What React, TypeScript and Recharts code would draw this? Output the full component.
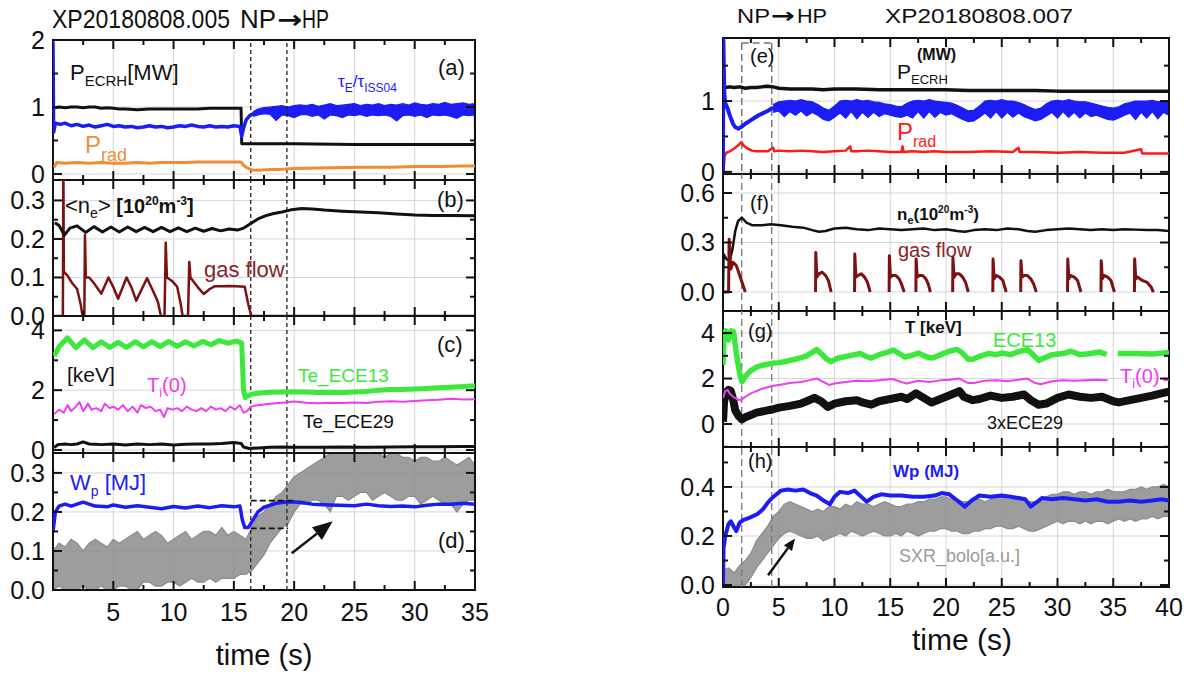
import React from "react";
import {
  ComposedChart,
  Line,
  Area,
  XAxis,
  YAxis,
  CartesianGrid,
  ReferenceLine,
  ReferenceArea,
} from "recharts";

type Pt = [number, number | null];
type Band = [number, number, number];

const FONT = "'Liberation Sans', Arial, sans-serif";

// ---------- left column: XP20180808.005, time 0..35 s ----------
const xMajorL = [5, 10, 15, 20, 25, 30];
const xMinorL = [2.5, 7.5, 12.5, 17.5, 22.5, 27.5, 32.5];
const xLabelsL = [5, 10, 15, 20, 25, 30, 35];
const dashL = [16.4, 19.4];

// (a) P_ECRH, tau_E/tau_ISS04, P_rad
const ecrhA: Pt[] = [[0.15,0.99],[0.5,1.0],[1,0.99],[1.5,1.0],[2,1.0],[2.5,0.99],[3,1.0],[3.5,1.0],[4,0.98],[4.5,0.99],[5,0.98],[5.5,0.97],[6,0.97],[7,0.96],[8,0.97],[9,0.97],[10,0.97],[11,0.97],[12,0.97],[13,0.98],[14,0.98],[15,0.98],[15.6,0.98],[15.65,0.45],[17,0.45],[20,0.45],[25,0.44],[30,0.44],[35,0.44]];
const tauA: Pt[] = [[0,1.98],[0.05,0.62],[0.2,0.76],[0.6,0.74],[1,0.76],[1.5,0.72],[2,0.74],[2.5,0.71],[3,0.73],[3.5,0.7],[4,0.72],[4.5,0.74],[5,0.71],[5.5,0.72],[6,0.7],[6.5,0.71],[7,0.69],[7.5,0.7],[8,0.72],[8.5,0.7],[9,0.71],[9.5,0.69],[10,0.7],[10.5,0.72],[11,0.71],[11.5,0.73],[12,0.71],[12.5,0.7],[13,0.72],[13.5,0.7],[14,0.71],[14.5,0.7],[15,0.72],[15.5,0.71],[15.65,0.56],[15.8,0.68],[16.0,0.8],[16.3,0.87],[16.7,0.91]];
const tauBandA: Band[] = [[16.6,0.86,0.93],[17,0.88,0.97],[17.5,0.9,0.99],[18,0.89,1.0],[18.5,0.8,1.01],[19,0.88,1.02],[19.5,0.87,1.0],[20,0.84,1.02],[20.5,0.88,1.03],[21,0.89,1.02],[21.5,0.86,1.04],[22,0.88,1.01],[22.5,0.82,1.03],[23,0.88,1.05],[23.5,0.87,1.02],[24,0.84,1.03],[24.5,0.88,1.04],[25,0.87,1.05],[25.5,0.89,1.02],[26,0.86,1.04],[26.5,0.88,1.03],[27,0.87,1.05],[27.5,0.88,1.02],[28,0.86,1.04],[28.5,0.79,1.03],[29,0.87,1.05],[29.5,0.88,1.03],[30,0.86,1.06],[30.5,0.88,1.04],[31,0.84,1.03],[31.5,0.88,1.05],[32,0.87,1.04],[32.5,0.88,1.07],[33,0.86,1.04],[33.5,0.83,1.05],[34,0.88,1.06],[34.5,0.87,1.04],[34.95,0.88,1.05],[35,-0.09,1.05]];
const pradA: Pt[] = [[0.1,0.1],[0.3,0.17],[1,0.16],[2,0.17],[3,0.16],[4,0.17],[5,0.16],[6,0.16],[7,0.17],[8,0.16],[9,0.17],[10,0.17],[11,0.17],[12,0.18],[13,0.18],[14,0.18],[15,0.18],[15.6,0.18],[15.8,0.13],[16.1,0.09],[16.5,0.06],[17,0.055],[18,0.065],[19,0.07],[20,0.08],[21,0.085],[22,0.09],[24,0.095],[26,0.1],[28,0.1],[30,0.11],[32,0.11],[34,0.12],[35,0.12]];

// (b) line-averaged density and gas flow
const neB: Pt[] = [[0.15,0.242],[0.5,0.235],[0.95,0.21],[1.4,0.228],[2.0,0.234],[2.7,0.217],[3.4,0.232],[4.1,0.218],[4.8,0.231],[5.5,0.218],[6.2,0.231],[6.9,0.219],[7.6,0.23],[8.3,0.219],[9.0,0.23],[9.7,0.219],[10.4,0.229],[11.1,0.219],[11.8,0.228],[12.5,0.22],[13.2,0.227],[13.9,0.221],[14.6,0.226],[15.3,0.223],[15.8,0.228],[16.4,0.24],[17,0.252],[17.6,0.26],[18.3,0.266],[19,0.27],[19.8,0.276],[20.6,0.279],[21.5,0.278],[22.5,0.275],[24,0.272],[25.5,0.27],[27,0.268],[28.5,0.265],[30,0.262],[31.5,0.261],[33,0.261],[35,0.26]];
const gasB: Pt[] = [[0,0],[0.82,0],[0.86,0.4],[0.9,0.115],[1.2,0.105],[1.6,0.085],[2.0,0.07],[2.3,0.03],[2.45,0],[2.6,0],[2.65,0.21],[2.72,0.1],[3.0,0.1],[3.4,0.085],[4.0,0.058],[4.6,0.1],[5.0,0.075],[5.4,0.045],[6.1,0.1],[6.5,0.075],[6.9,0.04],[7.8,0.098],[8.3,0.065],[8.7,0.037],[8.95,0],[9.25,0],[9.35,0.19],[9.45,0.1],[9.9,0.09],[10.3,0.076],[10.6,0.03],[10.75,0],[11.2,0],[11.3,0.14],[11.4,0.1],[12.0,0.075],[12.5,0.057],[13.0,0.07],[13.4,0.077],[14,0.077],[14.6,0.078],[15.2,0.077],[15.9,0.076],[16.2,0.03],[16.45,0],[35,0]];

// (c) temperatures [keV]
const ece13C: Pt[] = [[0.1,3.15],[0.5,3.45],[1.2,3.75],[1.9,3.42],[2.6,3.68],[3.3,3.42],[4.0,3.62],[4.7,3.43],[5.4,3.6],[6.1,3.43],[6.8,3.62],[7.5,3.45],[8.2,3.62],[8.9,3.46],[9.6,3.63],[10.3,3.47],[11.0,3.62],[11.7,3.48],[12.4,3.63],[13.1,3.52],[13.8,3.66],[14.5,3.57],[15.2,3.64],[15.65,3.58],[15.8,2.0],[15.95,1.75],[16.4,1.86],[17,1.9],[18,1.93],[19,1.94],[20,1.95],[21,1.94],[22,1.92],[23,1.93],[24,1.92],[25,1.94],[26,1.96],[27,2.0],[28,2.02],[29,2.02],[30,2.04],[31,2.06],[32,2.08],[33,2.1],[34,2.12],[35,2.15]];
const tiC: Pt[] = [[0.1,1.2],[0.5,1.35],[0.9,1.25],[1.2,1.5],[1.5,1.3],[1.9,1.45],[2.2,1.6],[2.5,1.3],[2.9,1.55],[3.2,1.35],[3.6,1.4],[4.0,1.3],[4.3,1.55],[4.7,1.4],[5.0,1.45],[5.4,1.35],[5.8,1.5],[6.2,1.3],[6.6,1.45],[7.0,1.25],[7.3,1.5],[7.7,1.4],[8.1,1.45],[8.5,1.3],[8.9,1.35],[9.2,1.1],[9.5,1.4],[9.9,1.35],[10.3,1.4],[10.7,1.3],[11.1,1.45],[11.5,1.35],[11.9,1.3],[12.3,1.4],[12.7,1.3],[13.1,1.45],[13.5,1.35],[13.9,1.4],[14.3,1.3],[14.7,1.45],[15.1,1.35],[15.5,1.5],[15.8,1.25],[16.1,1.3],[16.4,1.45],[17,1.5],[18,1.55],[19,1.58],[20,1.62],[21,1.58],[22,1.56],[23,1.58],[24,1.57],[25,1.59],[26,1.57],[27,1.61],[28,1.63],[29,1.61],[30,1.64],[31,1.66],[32,1.68],[33,1.71],[34,1.69],[35,1.7]];
const ece29C: Pt[] = [[0.1,0.08],[0.4,0.18],[1,0.2],[1.5,0.18],[2,0.2],[2.5,0.27],[3,0.2],[3.5,0.19],[4,0.18],[5,0.2],[6,0.17],[7,0.2],[8,0.18],[9,0.2],[10,0.17],[11,0.19],[12,0.2],[13,0.2],[14,0.22],[15,0.25],[15.6,0.22],[15.8,0.1],[16.3,0.05],[17,0.07],[18,0.09],[19,0.1],[20,0.09],[22,0.09],[24,0.1],[26,0.09],[28,0.1],[30,0.11],[32,0.11],[34,0.12],[35,0.12]];

// (d) W_p [MJ] and SXR envelope
const wpD: Pt[] = [[0,0.15],[0.2,0.2],[0.5,0.215],[1,0.22],[1.5,0.215],[2.5,0.225],[3.5,0.215],[4.5,0.213],[5,0.218],[6,0.212],[7,0.216],[8,0.212],[9,0.208],[10,0.214],[11,0.21],[12,0.215],[13,0.211],[14,0.216],[15,0.213],[15.5,0.215],[15.7,0.18],[15.9,0.16],[16.2,0.16],[16.6,0.18],[17,0.2],[17.5,0.212],[18.5,0.222],[19.5,0.226],[20.5,0.225],[21.5,0.22],[23,0.218],[25,0.216],[26,0.22],[27,0.216],[28,0.214],[29,0.215],[30,0.213],[31,0.217],[32,0.22],[33,0.22],[34,0.222],[35,0.22]];
const sxrD: Band[] = [[0,0.0,0.1],[0.5,0.01,0.12],[1,0.0,0.11],[1.5,0.0,0.13],[2,0.0,0.12],[2.5,0.01,0.1],[3,0.0,0.12],[3.5,0.0,0.13],[4,0.01,0.12],[4.5,0.0,0.11],[5,0.0,0.13],[5.5,0.01,0.12],[6,0.01,0.13],[6.5,0.0,0.14],[7,0.0,0.15],[7.5,0.02,0.13],[8,0.02,0.14],[8.5,0.01,0.15],[9,0.01,0.14],[9.5,0.02,0.12],[10,0.02,0.13],[10.5,0.01,0.14],[11,0.02,0.15],[11.5,0.03,0.13],[12,0.02,0.14],[12.5,0.02,0.15],[13,0.03,0.15],[13.5,0.02,0.14],[14,0.03,0.16],[14.5,0.03,0.14],[15,0.03,0.15],[15.5,0.04,0.14],[16,0.04,0.13],[16.5,0.05,0.16],[17,0.07,0.19],[17.5,0.09,0.2],[18,0.12,0.22],[18.5,0.14,0.24],[19,0.16,0.25],[19.5,0.17,0.27],[20,0.2,0.29],[20.5,0.22,0.3],[21,0.22,0.31],[21.5,0.23,0.32],[22,0.23,0.33],[22.5,0.22,0.34],[23,0.2,0.35],[23.5,0.24,0.35],[24,0.24,0.35],[24.5,0.23,0.35],[25,0.24,0.35],[25.5,0.25,0.35],[26,0.25,0.35],[26.5,0.23,0.35],[27,0.24,0.35],[27.5,0.25,0.34],[28,0.24,0.35],[28.5,0.23,0.35],[29,0.23,0.34],[29.5,0.24,0.34],[30,0.24,0.33],[30.5,0.22,0.34],[31,0.23,0.34],[31.5,0.24,0.33],[32,0.23,0.33],[32.5,0.22,0.34],[33,0.22,0.33],[33.5,0.2,0.32],[34,0.22,0.33],[34.5,0.23,0.34],[35,0.23,0.32]];
const wpStepD = { hi: 0.229, lo: 0.158, from: 16.4, to: 19.9, toLo: 19.5 };
const arrowD = { x1: 19.8, y1: 0.094, x2: 23.2, y2: 0.176 };

// ---------- right column: XP20180808.007, time 0..40 s ----------
const xMajorR = [5, 10, 15, 20, 25, 30, 35];
const xMinorR = [2.5, 7.5, 12.5, 17.5, 22.5, 27.5, 32.5, 37.5];
const xLabelsR = [0, 5, 10, 15, 20, 25, 30, 35, 40];
const dashR = [1.68, 4.37];

// (e)
const ecrhE: Pt[] = [[0.2,1.19],[0.6,1.2],[1,1.19],[1.5,1.2],[2,1.18],[2.5,1.19],[3,1.19],[3.5,1.2],[4,1.21],[4.5,1.2],[5,1.18],[6,1.17],[7,1.17],[8,1.17],[9,1.16],[10,1.17],[12,1.17],[14,1.16],[16,1.16],[18,1.16],[20,1.16],[22,1.15],[24,1.15],[26,1.15],[28,1.15],[30,1.14],[32,1.14],[34,1.14],[36,1.14],[38,1.14],[40,1.14]];
const tauE: Pt[] = [[0,-0.03],[0.03,1.89],[0.12,1.1],[0.2,0.97],[0.4,0.9],[0.65,0.78],[0.9,0.68],[1.1,0.63],[1.4,0.61],[1.7,0.64],[2.0,0.68],[2.4,0.72],[2.8,0.76],[3.2,0.8],[3.6,0.83],[4.0,0.86],[4.4,0.9],[4.6,0.9]];
const tauBandE: Band[] = [[4.5,0.84,0.95],[5,0.86,0.99],[5.5,0.78,1.0],[6,0.85,1.01],[6.5,0.8,1.0],[7,0.86,1.02],[7.5,0.79,1.0],[8,0.84,0.99],[8.5,0.8,0.95],[9,0.74,0.9],[9.5,0.72,0.87],[10,0.77,0.93],[10.5,0.83,1.0],[11,0.76,1.01],[11.5,0.85,1.0],[12,0.75,1.02],[12.5,0.84,1.0],[13,0.77,1.01],[13.5,0.84,0.99],[14,0.78,0.98],[14.5,0.82,0.96],[15,0.8,0.95],[15.5,0.78,0.93],[16,0.77,0.92],[16.5,0.8,0.97],[17,0.76,1.0],[17.5,0.85,1.01],[18,0.76,1.0],[18.5,0.85,1.02],[19,0.77,1.0],[19.5,0.84,0.99],[20,0.8,0.98],[20.5,0.82,0.97],[21,0.78,0.94],[21.5,0.74,0.9],[22,0.71,0.86],[22.5,0.72,0.87],[23,0.77,0.93],[23.5,0.83,1.0],[24,0.76,1.01],[24.5,0.85,1.0],[25,0.76,1.02],[25.5,0.84,1.0],[26,0.77,1.0],[26.5,0.83,0.98],[27,0.78,0.95],[27.5,0.75,0.91],[28,0.72,0.88],[28.5,0.74,0.9],[29,0.79,0.96],[29.5,0.84,1.0],[30,0.76,1.01],[30.5,0.85,1.0],[31,0.77,1.02],[31.5,0.84,1.0],[32,0.76,0.99],[32.5,0.83,0.99],[33,0.78,0.97],[33.5,0.8,0.95],[34,0.77,0.93],[34.5,0.74,0.91],[35,0.73,0.9],[35.5,0.76,0.92],[36,0.8,0.96],[36.5,0.83,0.98],[37,0.74,1.0],[37.5,0.84,1.0],[38,0.76,1.0],[38.5,0.85,1.01],[39,0.75,0.99],[39.5,0.84,1.0],[40,0.8,0.98]];
const pradE: Pt[] = [[0,0],[0.05,0.05],[0.15,0.22],[0.3,0.27],[0.6,0.29],[1.0,0.33],[1.4,0.38],[1.65,0.42],[1.8,0.38],[2.2,0.33],[2.6,0.3],[3,0.29],[4,0.29],[4.5,0.34],[4.6,0.29],[5,0.3],[6,0.29],[7,0.3],[8,0.29],[9,0.28],[10,0.29],[11,0.3],[11.4,0.36],[11.5,0.29],[12,0.29],[13,0.3],[14,0.29],[15,0.28],[16,0.28],[16.1,0.36],[16.2,0.28],[17,0.29],[18,0.28],[19,0.29],[20,0.28],[22,0.28],[24,0.29],[26,0.28],[26.5,0.34],[26.6,0.28],[28,0.28],[30,0.27],[32,0.28],[34,0.27],[36,0.27],[37.5,0.32],[37.6,0.26],[38,0.26],[40,0.26]];

// (f)
const neF: Pt[] = [[0,0.0],[0.05,0.23],[0.3,0.2],[0.6,0.19],[0.85,0.26],[1.1,0.37],[1.35,0.43],[1.7,0.45],[2.1,0.42],[2.6,0.405],[3.5,0.405],[4.3,0.41],[5.2,0.405],[6.2,0.395],[7.2,0.39],[8.0,0.375],[8.6,0.365],[9.2,0.37],[10.0,0.385],[11,0.39],[12,0.38],[13,0.375],[14,0.385],[15,0.38],[16,0.375],[17,0.38],[18,0.385],[19,0.375],[20,0.38],[21,0.37],[21.7,0.365],[22.5,0.375],[23.5,0.38],[24.5,0.375],[25.5,0.385],[26.5,0.38],[27.3,0.37],[28,0.365],[29,0.375],[30,0.38],[31,0.385],[32,0.38],[33,0.375],[34,0.38],[35,0.375],[36,0.38],[37,0.378],[38,0.375],[39,0.375],[40,0.37]];
const gasF: Pt[] = [[0,0],[0.5,0],[0.55,0.32],[0.7,0.14],[0.9,0.18],[1.2,0.16],[1.5,0.1],[1.8,0.04],[2.0,0],[5,null],
  [8.3,0],[8.32,0.24],[8.42,0.09],[8.6,0.11],[8.9,0.12],[9.2,0.1],[9.45,0.07],[9.7,0],[10.5,null],
  [11.8,0],[11.82,0.23],[11.92,0.09],[12.1,0.1],[12.4,0.11],[12.7,0.09],[12.95,0.06],[13.2,0],[14,null],
  [14.9,0],[14.92,0.22],[15.02,0.09],[15.2,0.1],[15.5,0.1],[15.8,0.08],[16.0,0.05],[16.25,0],[16.8,null],
  [17.3,0],[17.32,0.2],[17.42,0.09],[17.6,0.1],[17.9,0.1],[18.2,0.08],[18.4,0.05],[18.6,0],[19.5,null],
  [20.6,0],[20.62,0.21],[20.72,0.09],[20.9,0.11],[21.2,0.11],[21.5,0.09],[21.75,0.06],[22.0,0],[23,null],
  [24.2,0],[24.22,0.2],[24.32,0.08],[24.5,0.1],[24.8,0.09],[25.1,0.07],[25.4,0],[26,null],
  [26.7,0],[26.72,0.19],[26.82,0.09],[27.0,0.1],[27.3,0.1],[27.6,0.08],[27.85,0.05],[28.1,0],[29.5,null],
  [30.9,0],[30.92,0.2],[31.02,0.08],[31.2,0.1],[31.5,0.09],[31.8,0.07],[32.1,0],[33,null],
  [33.9,0],[33.92,0.19],[34.02,0.08],[34.2,0.1],[34.5,0.09],[34.8,0.07],[35.1,0],[36,null],
  [36.9,0],[36.92,0.2],[37.02,0.08],[37.2,0.09],[37.6,0.07],[38.0,0.06],[38.4,0.03],[38.6,0]];

// (g)
const ece13G: Pt[] = [[0,2.6],[0.1,3.9],[0.25,4.1],[0.5,3.7],[0.75,4.1],[0.95,4.05],[1.2,3.1],[1.5,2.2],[1.7,1.86],[2.0,2.1],[2.5,2.35],[3.0,2.5],[3.5,2.58],[4.0,2.63],[4.5,2.68],[5,2.7],[5.5,2.74],[6,2.8],[6.5,2.85],[7,2.92],[7.5,3.0],[8.0,3.15],[8.4,3.27],[8.8,3.1],[9.3,2.85],[9.7,2.74],[10.2,2.88],[10.8,2.95],[11.5,3.02],[12.3,3.1],[12.8,2.98],[13.3,2.9],[14,3.05],[14.7,3.15],[15.3,3.25],[15.8,3.1],[16.3,2.95],[16.8,3.0],[17.5,3.12],[18.3,2.95],[18.8,2.9],[19.5,3.05],[20.3,3.2],[21.0,3.28],[21.4,3.15],[22.0,2.85],[22.4,2.85],[23,2.98],[23.8,3.1],[24.5,3.05],[25,3.12],[25.8,3.05],[26.5,3.18],[27.3,3.27],[27.8,3.05],[28.3,2.8],[28.8,2.9],[29.5,3.05],[30.5,3.1],[31.2,3.2],[32,3.05],[33,3.1],[33.8,3.17],[34.4,3.05],[34.9,null],[35.4,3.1],[37,3.1],[38.5,3.08],[40,3.15]];
const tiG: Pt[] = [[0,1.15],[0.2,1.45],[0.4,1.5],[0.6,1.35],[0.9,1.2],[1.3,1.08],[1.6,1.05],[2,1.2],[2.5,1.35],[3,1.45],[3.5,1.55],[4,1.62],[4.5,1.68],[5,1.72],[6,1.8],[7,1.85],[7.8,1.93],[8.4,2.0],[9,1.85],[9.5,1.72],[10,1.78],[11,1.85],[12,1.9],[13,1.88],[14,1.92],[15.2,1.98],[16,1.85],[16.5,1.78],[17.5,1.9],[18.5,1.85],[19.5,1.92],[20.3,1.95],[21.2,2.0],[22,1.8],[22.5,1.8],[23.5,1.9],[24.5,1.92],[25.5,1.88],[26.5,1.95],[27.3,2.0],[28,1.8],[28.5,1.75],[29.5,1.88],[30.5,1.93],[31.5,1.9],[32.5,1.92],[33.5,1.95],[34.5,1.92],[37,null],[39.5,1.92],[40,1.95]];
const ece29G: Pt[] = [[0,0.1],[0.1,1.0],[0.3,1.4],[0.5,1.5],[0.7,1.45],[0.9,1.1],[1.1,0.6],[1.4,0.35],[1.7,0.2],[2.0,0.3],[2.5,0.4],[3,0.5],[3.5,0.55],[4,0.6],[4.5,0.65],[5,0.72],[6,0.8],[7,0.9],[7.5,1.0],[8.2,1.15],[8.8,1.0],[9.4,0.75],[10,0.9],[11,1.0],[12,1.05],[12.5,0.95],[13.3,0.85],[14,1.0],[15,1.1],[16,1.2],[16.5,1.1],[17.3,1.35],[18,1.15],[18.7,0.95],[19.5,1.1],[20.5,1.3],[21.2,1.45],[21.6,1.2],[22.4,1.05],[23,1.1],[24,1.25],[25,1.15],[26,1.2],[27,1.3],[27.6,1.05],[28.3,0.85],[29,0.9],[30,1.15],[31,1.3],[32,1.2],[33,1.15],[34,1.2],[35,1.0],[35.5,0.95],[36.5,1.05],[37.5,1.15],[38.5,1.25],[39.3,1.35],[40,1.42]];

// (h)
const wpH: Pt[] = [[0,0],[0.05,0.15],[0.2,0.2],[0.5,0.25],[0.7,0.26],[1.0,0.235],[1.2,0.22],[1.5,0.255],[1.8,0.265],[2.4,0.275],[3.1,0.29],[3.6,0.31],[4.0,0.335],[4.4,0.355],[4.8,0.37],[5.2,0.385],[5.8,0.39],[6.5,0.385],[7.2,0.39],[7.8,0.375],[8.4,0.365],[9.0,0.345],[9.6,0.33],[10.0,0.36],[10.5,0.38],[11.2,0.375],[11.8,0.385],[12.4,0.36],[12.9,0.34],[13.5,0.36],[14.2,0.37],[15,0.365],[16,0.365],[17,0.36],[18,0.36],[19,0.365],[19.6,0.375],[20.3,0.37],[21,0.345],[21.7,0.32],[22.3,0.345],[23,0.365],[24,0.36],[25,0.365],[25.8,0.36],[26.5,0.355],[27.1,0.35],[27.6,0.32],[28.2,0.34],[28.6,0.355],[29.5,0.35],[30.5,0.355],[31.5,0.35],[32.5,0.345],[33.5,0.35],[34.5,0.34],[35.5,0.34],[36.5,0.345],[37.5,0.34],[38.5,0.345],[39.3,0.35],[40,0.345]];
const sxrH: Band[] = [[0,0.0,0.06],[0.5,0.0,0.07],[1,0.0,0.05],[1.5,0.0,0.08],[2,0.0,0.1],[2.5,0.03,0.13],[3,0.07,0.18],[3.5,0.1,0.21],[4,0.13,0.24],[4.5,0.16,0.28],[5,0.19,0.3],[5.5,0.21,0.33],[6,0.22,0.34],[6.5,0.21,0.33],[7,0.2,0.32],[7.5,0.19,0.31],[8,0.19,0.3],[8.5,0.2,0.31],[9,0.18,0.3],[9.5,0.19,0.32],[10,0.2,0.32],[10.5,0.21,0.31],[11,0.2,0.33],[11.5,0.22,0.32],[12,0.21,0.34],[12.5,0.2,0.33],[13,0.21,0.33],[13.5,0.22,0.32],[14,0.21,0.33],[14.5,0.2,0.34],[15,0.2,0.33],[15.5,0.21,0.32],[16,0.2,0.32],[16.5,0.22,0.33],[17,0.21,0.33],[17.5,0.2,0.34],[18,0.21,0.34],[18.5,0.22,0.35],[19,0.22,0.35],[19.5,0.23,0.36],[20,0.23,0.36],[20.5,0.22,0.35],[21,0.22,0.35],[21.5,0.21,0.34],[22,0.21,0.34],[22.5,0.22,0.35],[23,0.22,0.35],[23.5,0.23,0.34],[24,0.23,0.35],[24.5,0.24,0.36],[25,0.24,0.36],[25.5,0.23,0.35],[26,0.23,0.35],[26.5,0.24,0.36],[27,0.23,0.35],[27.5,0.22,0.34],[28,0.22,0.34],[28.5,0.23,0.35],[29,0.24,0.36],[29.5,0.25,0.37],[30,0.26,0.37],[30.5,0.25,0.38],[31,0.26,0.38],[31.5,0.26,0.37],[32,0.25,0.38],[32.5,0.26,0.38],[33,0.25,0.37],[33.5,0.26,0.38],[34,0.26,0.38],[34.5,0.25,0.39],[35,0.26,0.38],[35.5,0.27,0.38],[36,0.26,0.38],[36.5,0.27,0.39],[37,0.26,0.39],[37.5,0.27,0.4],[38,0.27,0.39],[38.5,0.28,0.4],[39,0.27,0.4],[39.5,0.28,0.41],[40,0.28,0.4]];
const arrowH = { x1: 4.04, y1: 0.04, x2: 6.46, y2: 0.19 };

const rows = (pts: Pt[]) => pts.map(([t, v]) => ({ t, v }));
const bandRows = (pts: Band[]) => pts.map(([t, lo, hi]) => ({ t, r: [lo, hi] }));

const trace = (key: string, pts: Pt[], color: string, width: number) => (
  <Line
    key={key}
    xAxisId="m"
    yAxisId="m"
    data={rows(pts)}
    dataKey="v"
    type="linear"
    stroke={color}
    strokeWidth={width}
    dot={false}
    activeDot={false}
    strokeLinejoin="round"
    isAnimationActive={false}
  />
);

const band = (key: string, pts: Band[], color: string, opacity = 0.85) => (
  <Area
    key={key}
    xAxisId="m"
    yAxisId="m"
    data={bandRows(pts)}
    dataKey="r"
    type="linear"
    stroke={color}
    strokeWidth={1.2}
    fill={color}
    fillOpacity={opacity}
    dot={false}
    activeDot={false}
    isAnimationActive={false}
  />
);

const vDash = (key: string, x: number, color: string, dash: string) => (
  <ReferenceLine key={key} xAxisId="m" yAxisId="m" x={x} stroke={color} strokeWidth={1.3} strokeDasharray={dash} />
);

function Arrow(props: any) {
  const { x1, y1, x2, y2, head = 16, half = 7 } = props;
  const a = Math.atan2(y2 - y1, x2 - x1);
  const bx = x2 - head * Math.cos(a);
  const by = y2 - head * Math.sin(a);
  const px = -Math.sin(a) * half;
  const py = Math.cos(a) * half;
  return (
    <g>
      <line x1={x1} y1={y1} x2={bx} y2={by} stroke="#111" strokeWidth={2.5} />
      <polygon points={`${x2},${y2} ${bx + px},${by + py} ${bx - px},${by - py}`} fill="#111" />
    </g>
  );
}

// inward tick marks at both ends of a reference line
function TickPair(props: any) {
  const { x1, y1, x2, y2, len } = props;
  const d = Math.hypot(x2 - x1, y2 - y1) || 1;
  const ux = ((x2 - x1) / d) * len;
  const uy = ((y2 - y1) / d) * len;
  return (
    <g>
      <line x1={x1} y1={y1} x2={x1 + ux} y2={y1 + uy} stroke="#111" strokeWidth={2} />
      <line x1={x2} y1={y2} x2={x2 - ux} y2={y2 - uy} stroke="#111" strokeWidth={2} />
    </g>
  );
}

interface PanelProps {
  left: number;
  top: number;
  plotW: number;
  plotH: number;
  yw: number;
  xDomain: [number, number];
  xMajor: number[];
  xMinor: number[];
  xLabels?: number[];
  labelMargin?: number;
  yDomain: [number, number];
  yMajor: number[];
  yMinor: number[];
  digits: number;
  children?: React.ReactNode;
}

function Panel(p: PanelProps) {
  const mt = 16, mr = 30, mb = 16;
  const xh = p.xLabels ? 44 : 0;
  const tickFont = { fontSize: 25, fill: "#111", fontFamily: FONT };
  const inner = (v: number, d: [number, number]) => v > d[0] && v < d[1];
  return (
    <div style={{ position: "absolute", left: p.left - p.yw, top: p.top - mt }}>
      <ComposedChart
        width={p.yw + p.plotW + mr}
        height={mt + p.plotH + xh + mb}
        margin={{ top: mt, right: mr, bottom: mb, left: 0 }}
      >
        <CartesianGrid xAxisId="m" yAxisId="m" stroke="#d6d6d6" strokeWidth={1} />
        <XAxis
          xAxisId="m"
          dataKey="t"
          type="number"
          domain={p.xDomain}
          allowDataOverflow
          ticks={p.xLabels ?? p.xMajor}
          hide={!p.xLabels}
          height={xh}
          interval={0}
          axisLine={false}
          tickLine={false}
          tickSize={0}
          tickMargin={p.labelMargin ?? 12}
          tick={tickFont}
        />
        <YAxis
          yAxisId="m"
          type="number"
          domain={p.yDomain}
          allowDataOverflow
          ticks={p.yMajor}
          width={p.yw}
          interval={0}
          axisLine={false}
          tickLine={false}
          tickSize={0}
          tickMargin={8}
          tickFormatter={(v: number) => v.toFixed(p.digits)}
          tick={tickFont}
        />
        {p.children}
        {p.xMajor.filter((v) => inner(v, p.xDomain)).map((v) => (
          <ReferenceLine key={`xM${v}`} xAxisId="m" yAxisId="m" x={v} shape={(s: any) => <TickPair {...s} len={9} />} />
        ))}
        {p.xMinor.filter((v) => inner(v, p.xDomain)).map((v) => (
          <ReferenceLine key={`xm${v}`} xAxisId="m" yAxisId="m" x={v} shape={(s: any) => <TickPair {...s} len={5} />} />
        ))}
        {p.yMajor.filter((v) => inner(v, p.yDomain)).map((v) => (
          <ReferenceLine key={`yM${v}`} xAxisId="m" yAxisId="m" y={v} shape={(s: any) => <TickPair {...s} len={9} />} />
        ))}
        {p.yMinor.filter((v) => inner(v, p.yDomain)).map((v) => (
          <ReferenceLine key={`ym${v}`} xAxisId="m" yAxisId="m" y={v} shape={(s: any) => <TickPair {...s} len={5} />} />
        ))}
        <ReferenceArea
          xAxisId="m"
          yAxisId="m"
          x1={p.xDomain[0]}
          x2={p.xDomain[1]}
          y1={p.yDomain[0]}
          y2={p.yDomain[1]}
          fill="none"
          fillOpacity={0}
          stroke="#111"
          strokeWidth={2}
          ifOverflow="visible"
        />
      </ComposedChart>
    </div>
  );
}

const BLUE = "#1c1cf5";
const GREEN = "#3ce83c";
const MAGENTA = "#f03cf0";
const DARKRED = "#7d1010";
const GRAY = "#8c8c8c";

function Overlay() {
  const t = { fontFamily: FONT, fill: "#111" } as const;
  const arrowFont = "'DejaVu Sans', sans-serif";
  return (
    <svg width={1201} height={677} style={{ position: "absolute", left: 0, top: 0, pointerEvents: "none" }}>
      {/* titles */}
      <text x={52} y={28} fontSize={25} textLength={178} lengthAdjust="spacingAndGlyphs" {...t}>XP20180808.005</text>
      <text x={240} y={28} fontSize={25} textLength={36} lengthAdjust="spacingAndGlyphs" {...t}>NP</text>
      <text x={277} y={28} fontSize={25} fontWeight="bold" textLength={25} lengthAdjust="spacingAndGlyphs" {...t} fontFamily={arrowFont}>→</text>
      <text x={302} y={28} fontSize={25} textLength={27} lengthAdjust="spacingAndGlyphs" {...t}>HP</text>
      <text x={737} y={23} fontSize={21} textLength={33} lengthAdjust="spacingAndGlyphs" {...t}>NP</text>
      <text x={771} y={23} fontSize={21} fontWeight="bold" textLength={24} lengthAdjust="spacingAndGlyphs" {...t} fontFamily={arrowFont}>→</text>
      <text x={797} y={23} fontSize={21} textLength={30} lengthAdjust="spacingAndGlyphs" {...t}>HP</text>
      <text x={885} y={23} fontSize={21} textLength={188} lengthAdjust="spacingAndGlyphs" {...t}>XP20180808.007</text>

      {/* left column */}
      <text x={438} y={75} fontSize={22} {...t}>(a)</text>
      <text x={437} y={207} fontSize={22} {...t}>(b)</text>
      <text x={437} y={352} fontSize={22} {...t}>(c)</text>
      <text x={438} y={548} fontSize={22} {...t}>(d)</text>
      <text x={70} y={80} fontSize={22} {...t}>P<tspan fontSize={15} dy={6}>ECRH</tspan><tspan dy={-6}>[MW]</tspan></text>
      <text x={338} y={87} fontSize={17} {...t} fill={BLUE}>τ<tspan fontSize={12} dy={5}>E</tspan><tspan dy={-5}>/τ</tspan><tspan fontSize={12} dy={5}>ISS04</tspan></text>
      <text x={85} y={153} fontSize={24} {...t} fill="#f08c3c">P<tspan fontSize={18} dy={8}>rad</tspan></text>
      <text x={65} y={213} fontSize={22} {...t}>&lt;n<tspan fontSize={14} dy={5}>e</tspan><tspan dy={-5}>&gt;</tspan><tspan fontSize={20} fontWeight="bold"> [10</tspan><tspan fontSize={12} fontWeight="bold" dy={-8}>20</tspan><tspan fontSize={20} fontWeight="bold" dy={8}>m</tspan><tspan fontSize={12} fontWeight="bold" dy={-8}>-3</tspan><tspan fontSize={20} fontWeight="bold" dy={8}>]</tspan></text>
      <text x={204} y={277} fontSize={22} {...t} fill="#8e2222">gas flow</text>
      <text x={67} y={382} fontSize={21} {...t}>[keV]</text>
      <text x={147} y={392} fontSize={20} {...t} fill={MAGENTA}>T<tspan fontSize={13} dy={5}>i</tspan><tspan dy={-5}>(0)</tspan></text>
      <text x={298} y={382} fontSize={19} {...t} fill={GREEN}>Te_ECE13</text>
      <text x={303} y={428} fontSize={19} {...t}>Te_ECE29</text>
      <text x={70} y={490} fontSize={22} {...t} fill={BLUE}>W<tspan fontSize={14} dy={6}>p</tspan><tspan dy={-6}> [MJ]</tspan></text>
      <text x={264} y={665} fontSize={29} textAnchor="middle" {...t}>time (s)</text>

      {/* right column */}
      <text x={750} y={63} fontSize={20} {...t}>(e)</text>
      <text x={917} y={60} fontSize={16} fontWeight="bold" {...t}>(MW)</text>
      <text x={897} y={79} fontSize={21} {...t}>P<tspan fontSize={13} dy={5}>ECRH</tspan></text>
      <text x={897} y={140} fontSize={24} {...t} fill="#ff1a1a">P<tspan fontSize={16} dy={7}>rad</tspan></text>
      <text x={750} y={210} fontSize={20} {...t}>(f)</text>
      <text x={897} y={220} fontSize={17} fontWeight="bold" {...t}>n<tspan fontSize={11} dy={4}>e</tspan><tspan dy={-4}>(10</tspan><tspan fontSize={10} dy={-7}>20</tspan><tspan dy={7}>m</tspan><tspan fontSize={10} dy={-7}>-3</tspan><tspan dy={7}>)</tspan></text>
      <text x={898} y={257} fontSize={20} {...t} fill="#8e2222">gas flow</text>
      <text x={748} y={338} fontSize={20} {...t}>(g)</text>
      <text x={905} y={333} fontSize={17} fontWeight="bold" {...t}>T [keV]</text>
      <text x={993} y={347} fontSize={20} {...t} fill={GREEN}>ECE13</text>
      <text x={1120} y={383} fontSize={20} {...t} fill={MAGENTA}>T<tspan fontSize={13} dy={5}>i</tspan><tspan dy={-5}>(0)</tspan></text>
      <text x={987} y={429} fontSize={18} {...t}>3xECE29</text>
      <text x={748} y={468} fontSize={20} {...t}>(h)</text>
      <text x={893} y={477} fontSize={17} fontWeight="bold" {...t} fill={BLUE}>Wp (MJ)</text>
      <text x={899} y={562} fontSize={18} {...t} fill="#9a9a9a">SXR_bolo[a.u.]</text>
      <text x={962} y={650} fontSize={30} textAnchor="middle" {...t}>time (s)</text>
    </svg>
  );
}

export default function App() {
  const L = { left: 53, plotW: 422, yw: 53, xDomain: [0, 35] as [number, number], xMajor: xMajorL, xMinor: xMinorL };
  const R = { left: 723, plotW: 446, yw: 60, xDomain: [0, 40] as [number, number], xMajor: xMajorR, xMinor: xMinorR };
  const dashBlack = "4 3";
  const dashGray = "7 4";
  return (
    <div style={{ position: "absolute", left: 0, top: 0, width: 1201, height: 677, background: "#fff", fontFamily: FONT }}>
      {/* (a) */}
      <Panel {...L} top={40} plotH={140} yDomain={[-0.09, 2]} yMajor={[0, 1, 2]} yMinor={[0.5, 1.5]} digits={0}>
        {dashL.map((x, i) => vDash(`a${i}`, x, "#222", dashBlack))}
        {trace("ecrh", ecrhA, "#111", 3)}
        {trace("prad", pradA, "#f28c33", 3)}
        {trace("tau", tauA, BLUE, 3.5)}
        {band("tauband", tauBandA, BLUE, 1)}
      </Panel>
      {/* (b) */}
      <Panel {...L} top={180} plotH={136} yDomain={[0, 0.353]} yMajor={[0, 0.1, 0.2, 0.3]} yMinor={[0.05, 0.15, 0.25]} digits={1}>
        {dashL.map((x, i) => vDash(`b${i}`, x, "#222", dashBlack))}
        {trace("gas", gasB, DARKRED, 2.5)}
        {trace("ne", neB, "#111", 3)}
      </Panel>
      {/* (c) */}
      <Panel {...L} top={316} plotH={137} yDomain={[-0.1, 4.48]} yMajor={[0, 2, 4]} yMinor={[1, 3]} digits={0}>
        {dashL.map((x, i) => vDash(`c${i}`, x, "#222", dashBlack))}
        {trace("e29", ece29C, "#111", 3)}
        {trace("ti", tiC, MAGENTA, 2)}
        {trace("e13", ece13C, GREEN, 5)}
      </Panel>
      {/* (d) */}
      <Panel {...L} top={453} plotH={137} yDomain={[0, 0.351]} yMajor={[0, 0.1, 0.2, 0.3]} yMinor={[0.05, 0.15, 0.25]} digits={1} xLabels={xLabelsL} labelMargin={13}>
        {dashL.map((x, i) => vDash(`d${i}`, x, "#222", dashBlack))}
        {trace("wp", wpD, BLUE, 3.5)}
        {band("sxr", sxrD, GRAY)}
        <ReferenceLine xAxisId="m" yAxisId="m" segment={[{ x: wpStepD.from, y: wpStepD.hi }, { x: wpStepD.to, y: wpStepD.hi }]} stroke="#111" strokeWidth={1.8} strokeDasharray="6 3" />
        <ReferenceLine xAxisId="m" yAxisId="m" segment={[{ x: wpStepD.from, y: wpStepD.lo }, { x: wpStepD.toLo, y: wpStepD.lo }]} stroke="#111" strokeWidth={1.8} strokeDasharray="6 3" />
        <ReferenceLine
          xAxisId="m"
          yAxisId="m"
          segment={[{ x: arrowD.x1, y: arrowD.y1 }, { x: arrowD.x2, y: arrowD.y2 }]}
          shape={(s: any) => <Arrow {...s} head={20} half={8} />}
        />
      </Panel>

      {/* (e) */}
      <Panel {...R} top={38} plotH={136} yDomain={[-0.03, 1.89]} yMajor={[0, 1]} yMinor={[0.5, 1.5]} digits={0}>
        {dashR.map((x, i) => (
          <ReferenceLine key={`e${i}`} xAxisId="m" yAxisId="m" segment={[{ x, y: 1.82 }, { x, y: -0.03 }]} stroke="#777" strokeWidth={1.5} strokeDasharray={dashGray} />
        ))}
        <ReferenceLine xAxisId="m" yAxisId="m" segment={[{ x: dashR[0], y: 1.82 }, { x: dashR[1], y: 1.82 }]} stroke="#777" strokeWidth={1.5} strokeDasharray={dashGray} />
        {trace("ecrh", ecrhE, "#111", 3.5)}
        {trace("prad", pradE, "#ff1a1a", 2.5)}
        {trace("tau", tauE, BLUE, 4)}
        {band("tauband", tauBandE, BLUE, 1)}
      </Panel>
      {/* (f) */}
      <Panel {...R} top={174} plotH={137} yDomain={[-0.115, 0.715]} yMajor={[0, 0.3, 0.6]} yMinor={[0.15, 0.45]} digits={1}>
        {dashR.map((x, i) => vDash(`f${i}`, x, "#777", dashGray))}
        {trace("ne", neF, "#111", 2.5)}
        {trace("gas", gasF, DARKRED, 3)}
      </Panel>
      {/* (g) */}
      <Panel {...R} top={311} plotH={136} yDomain={[-1.01, 4.97]} yMajor={[0, 2, 4]} yMinor={[-1, 1, 3]} digits={0}>
        {dashR.map((x, i) => vDash(`g${i}`, x, "#777", dashGray))}
        {trace("e29", ece29G, "#111", 8)}
        {trace("ti", tiG, MAGENTA, 2)}
        {trace("e13", ece13G, GREEN, 5.5)}
      </Panel>
      {/* (h) */}
      <Panel {...R} top={447} plotH={140} yDomain={[-0.008, 0.563]} yMajor={[0, 0.2, 0.4]} yMinor={[0.1, 0.3, 0.5]} digits={1} xLabels={xLabelsR} labelMargin={11}>
        {dashR.map((x, i) => vDash(`h${i}`, x, "#777", dashGray))}
        {trace("wp", wpH, BLUE, 4)}
        {band("sxr", sxrH, GRAY)}
        <ReferenceLine
          xAxisId="m"
          yAxisId="m"
          segment={[{ x: arrowH.x1, y: arrowH.y1 }, { x: arrowH.x2, y: arrowH.y2 }]}
          shape={(s: any) => <Arrow {...s} head={12} half={5} />}
        />
      </Panel>
      <Overlay />
    </div>
  );
}
